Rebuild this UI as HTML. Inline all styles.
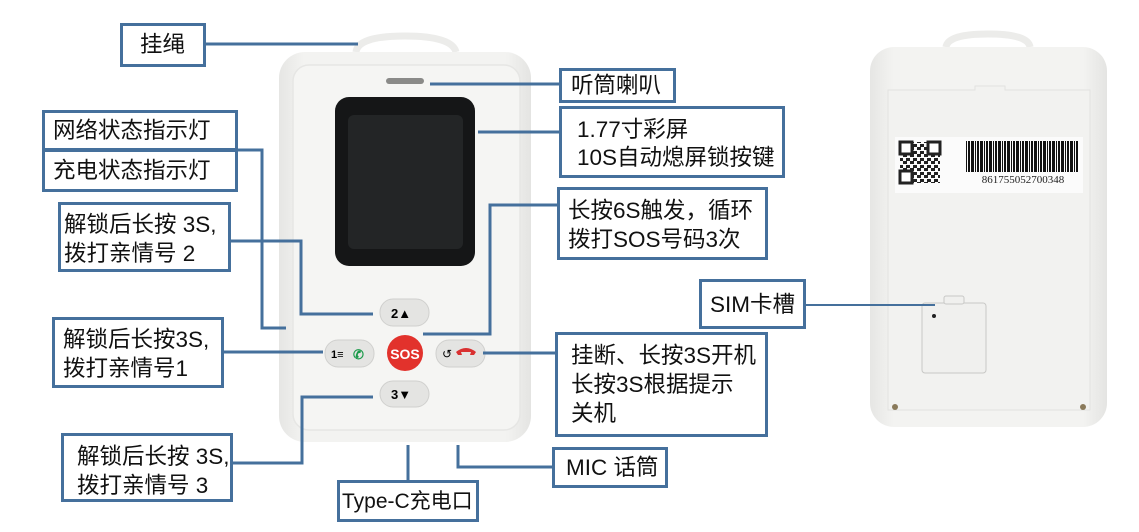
<!DOCTYPE html>
<html><head><meta charset="utf-8"><style>
body{margin:0;background:#fff;}
#c{position:relative;width:1139px;height:532px;overflow:hidden;background:#fff;font-family:"Liberation Sans","Noto Sans CJK SC",sans-serif;color:#111;}
.b{position:absolute;box-sizing:border-box;border:3px solid #45709c;background:#fff;font-size:22.5px;line-height:26px;white-space:nowrap;}
svg{position:absolute;left:0;top:0;}
</style></head><body><div id="c">
<svg width="1139" height="532">
<defs>
<linearGradient id="g" x1="0" y1="0" x2="1" y2="0"><stop offset="0" stop-color="#e6e6e4"/><stop offset=".1" stop-color="#f3f3f1"/><stop offset=".9" stop-color="#f3f3f1"/><stop offset="1" stop-color="#e4e4e2"/></linearGradient>
<pattern id="bar" width="9" height="10" patternUnits="userSpaceOnUse"><rect x="0" width="2" height="10" fill="#111"/><rect x="3" width="1" height="10" fill="#111"/><rect x="5" width="2" height="10" fill="#111"/><rect x="8" width="1" height="10" fill="#111"/></pattern>
<pattern id="qr" width="7" height="7" patternUnits="userSpaceOnUse"><rect width="4" height="3" fill="#222"/><rect x="3" y="4" width="4" height="3" fill="#222"/></pattern>
</defs>
<path d="M356 52 Q358 36 405 36 Q452 36 456 52" fill="none" stroke="#ececea" stroke-width="7"/>
<rect x="279" y="52" width="252" height="390" rx="26" fill="url(#g)"/>
<rect x="293" y="65" width="227" height="365" rx="16" fill="#f5f5f3" stroke="#e6e6e4" stroke-width="1.5"/>
<rect x="386" y="78" width="38" height="6" rx="3" fill="#8a8a88"/>
<rect x="335" y="97" width="140" height="169" rx="14" fill="#151617"/>
<rect x="348" y="115" width="115" height="134" rx="6" fill="#232526"/>
<g font-family="Liberation Sans" font-weight="bold">
<rect x="380" y="299" width="49" height="27" rx="13" fill="#e4e4e2" stroke="#d0d0ce"/>
<text x="391" y="318" font-size="13">2▲</text>
<rect x="380" y="381" width="49" height="26" rx="13" fill="#e4e4e2" stroke="#d0d0ce"/>
<text x="391" y="399" font-size="13">3▼</text>
<rect x="325" y="340" width="49" height="27" rx="13" fill="#e4e4e2" stroke="#d0d0ce"/>
<text x="331" y="358" font-size="11">1≡</text><text x="353" y="359" font-size="13" fill="#1a9a4a">✆</text>
<rect x="436" y="340" width="49" height="27" rx="13" fill="#e4e4e2" stroke="#d0d0ce"/>
<text x="442" y="358" font-size="12" font-weight="normal">↺</text><path d="M456 352 q10 -8 20 0 l-2 3 h-4 l1 -3 h-10 l1 3 h-4z" fill="#d93030"/>
<circle cx="405" cy="353" r="18" fill="#e2322c"/>
<text x="405" y="359" font-size="14" fill="#fff" text-anchor="middle">SOS</text>
</g>
<path d="M946 47 Q948 34 988 34 Q1028 34 1030 47" fill="none" stroke="#ececea" stroke-width="7"/>
<rect x="870" y="47" width="237" height="380" rx="24" fill="url(#g)"/>
<path d="M888 90 H975 V86 H1005 V90 H1090 V410 H888Z" fill="#f2f2f0" stroke="#e2e2e0"/>
<rect x="895" y="137" width="188" height="56" fill="#fbfbfb"/>
<rect x="900" y="142" width="40" height="41" fill="url(#qr)"/>
<rect x="900" y="142" width="12" height="12" fill="#fff" stroke="#222" stroke-width="3"/>
<rect x="928" y="142" width="12" height="12" fill="#fff" stroke="#222" stroke-width="3"/>
<rect x="900" y="171" width="12" height="12" fill="#fff" stroke="#222" stroke-width="3"/>
<rect x="965" y="141" width="113" height="31" fill="url(#bar)"/>
<text x="1023" y="183" font-size="11" font-family="Liberation Serif" text-anchor="middle" fill="#222">861755052700348</text>
<rect x="922" y="303" width="64" height="70" rx="3" fill="#f0f0ee" stroke="#c8c8c6"/>
<rect x="944" y="296" width="20" height="8" rx="2" fill="#f0f0ee" stroke="#c8c8c6"/>
<circle cx="934" cy="316" r="2" fill="#222"/>
<circle cx="895" cy="407" r="3" fill="#8a7a5a"/>
<circle cx="1083" cy="407" r="3" fill="#8a7a5a"/>
<g fill="none" stroke="#45709c" stroke-width="3">
<path d="M205 44 H358"/>
<path d="M237 150 H262 V328 H286"/>
<path d="M230 241 H301 V314 H373"/>
<path d="M223 352 H323"/>
<path d="M232 463 H302 V397 H373"/>
<path d="M408 445 V480"/>
<path d="M458 445 V467 H553"/>
<path d="M430 84 H559"/>
<path d="M478 132 H559"/>
<path d="M423 334 H490 V205 H557"/>
<path d="M483 353 H555"/>
<path d="M805 305 H935" stroke-width="2"/>
</g>
</svg>
<div class="b" style="left:120px;top:23px;width:86px;height:44px;padding:6px 0 0 17px;">挂绳</div>
<div class="b" style="left:42px;top:110px;width:196px;height:41px;padding:5px 0 0 8px;">网络状态指示灯</div>
<div class="b" style="left:42px;top:149px;width:196px;height:43px;padding:6px 0 0 8px;">充电状态指示灯</div>
<div class="b" style="left:58px;top:202px;width:173px;height:70px;padding:5px 0 0 3px;line-height:29px;">解锁后长按 3S,<br>拨打亲情号 2</div>
<div class="b" style="left:52px;top:317px;width:172px;height:71px;padding:5px 0 0 8px;line-height:29px;">解锁后长按3S,<br>拨打亲情号1</div>
<div class="b" style="left:61px;top:433px;width:172px;height:69px;padding:6px 0 0 13px;line-height:29px;">解锁后长按 3S,<br>拨打亲情号 3</div>
<div class="b" style="left:337px;top:480px;width:142px;height:42px;padding:6px 0 0 2px;font-size:21px;">Type-C充电口</div>
<div class="b" style="left:559px;top:68px;width:117px;height:35px;padding:2px 0 0 9px;">听筒喇叭</div>
<div class="b" style="left:559px;top:106px;width:226px;height:72px;padding:7px 0 0 15px;line-height:28px;">1.77寸彩屏<br>10S自动熄屏锁按键</div>
<div class="b" style="left:557px;top:187px;width:211px;height:73px;padding:6px 0 0 8px;line-height:29px;">长按6S触发，循环<br>拨打SOS号码3次</div>
<div class="b" style="left:699px;top:279px;width:107px;height:50px;padding:10px 0 0 8px;">SIM卡槽</div>
<div class="b" style="left:555px;top:332px;width:213px;height:105px;padding:6px 0 0 13px;line-height:29px;">挂断、长按3S开机<br>长按3S根据提示<br>关机</div>
<div class="b" style="left:552px;top:447px;width:116px;height:41px;padding:5px 0 0 11px;">MIC 话筒</div>
</div></body></html>
